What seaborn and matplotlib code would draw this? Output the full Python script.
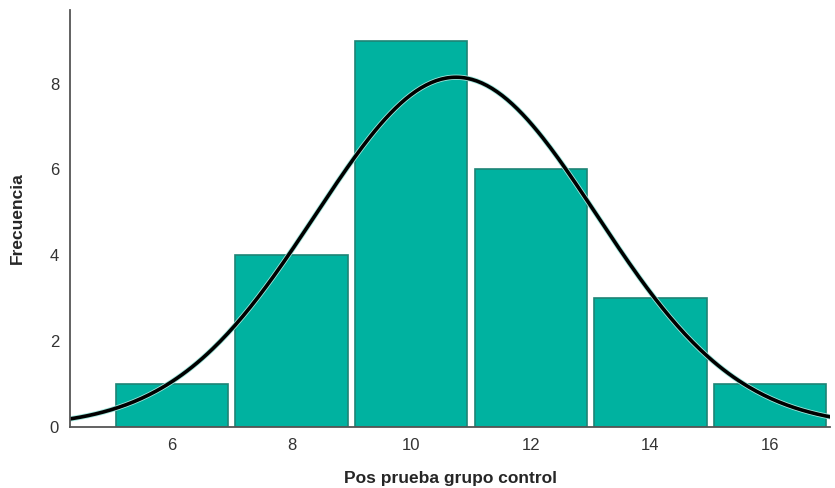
import seaborn as sns
import matplotlib.pyplot as plt
import matplotlib.patheffects as pe
import numpy as np

# histogram data
bin_edges = [5, 7, 9, 11, 13, 15, 17]
bin_centers = [6, 8, 10, 12, 14, 16]
counts = [1, 4, 9, 6, 3, 1]

# fitted normal curve parameters (mean, sd, n)
curve_mean = 10.75
curve_sd = 2.35
n_obs = 24

x_ticks = [6, 8, 10, 12, 14, 16]
y_ticks = [0, 2, 4, 6, 8]

sns.set_style("white")
plt.rcParams['font.family'] = ['Liberation Sans', 'DejaVu Sans']

fig = plt.figure(figsize=(8.35, 4.88), dpi=100)
ax = fig.add_axes([0.084, 0.125, 0.91, 0.855])

sns.histplot(x=bin_centers, weights=counts, bins=bin_edges, shrink=0.94,
             color='#00b2a0', edgecolor='#1e8475', linewidth=1.2, alpha=1, ax=ax)

xs = np.linspace(4.3, 17, 300)
width = bin_edges[1] - bin_edges[0]
ys = n_obs * width / (curve_sd * np.sqrt(2 * np.pi)) * np.exp(-0.5 * ((xs - curve_mean) / curve_sd) ** 2)
ax.plot(xs, ys, color='black', lw=2.6,
        path_effects=[pe.Stroke(linewidth=3.8, foreground='#9fe8dd'), pe.Normal()])

ax.set_xlim(4.3, 17)
ax.set_ylim(0, 9.72)
ax.set_xticks(x_ticks)
ax.set_yticks(y_ticks)
ax.tick_params(axis='both', length=0, labelsize=12, colors='#333333', pad=8)
ax.set_xlabel('Pos prueba grupo control', fontsize=12.5, fontweight='bold', labelpad=13)
ax.set_ylabel('Frecuencia', fontsize=12.5, fontweight='bold', labelpad=18)

for s in ['top', 'right']:
    ax.spines[s].set_visible(False)
for s in ['left', 'bottom']:
    ax.spines[s].set_color('#555555')
    ax.spines[s].set_linewidth(1.3)

fig.savefig('out.png', dpi=100)
